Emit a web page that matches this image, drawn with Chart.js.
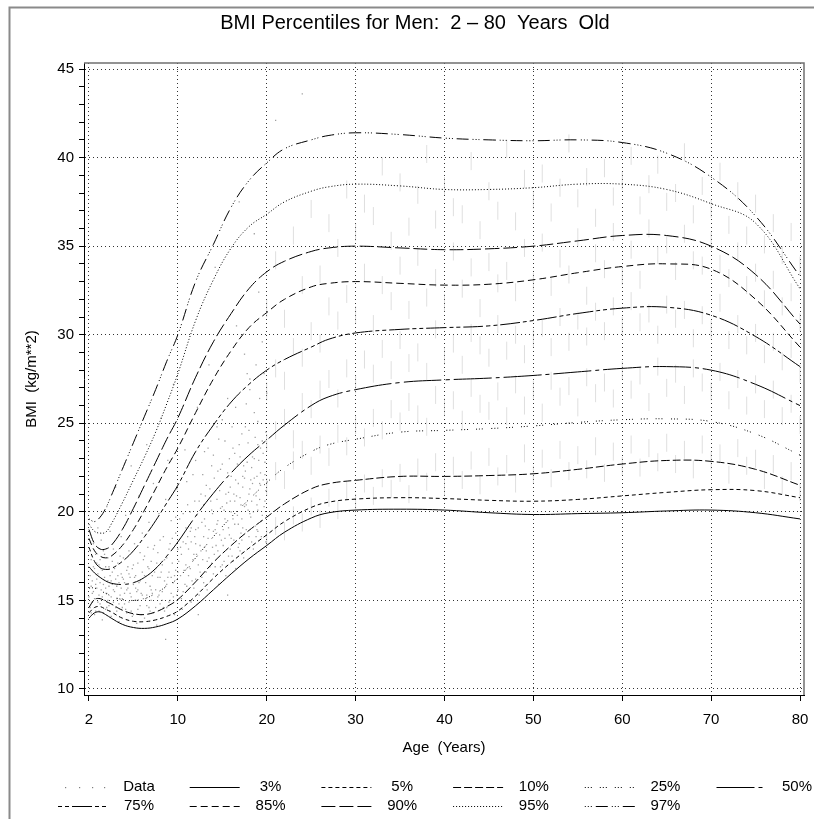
<!DOCTYPE html>
<html><head><meta charset="utf-8">
<script src="https://cdn.jsdelivr.net/npm/chart.js@4.4.1/dist/chart.umd.min.js"></script>
<style>html,body{margin:0;padding:0;background:#fff}#wrap{width:814px;height:819px}</style>
</head><body><div id="wrap"><canvas id="c" width="814" height="819"></canvas></div>
<script>
const titleText = 'BMI Percentiles for Men:  2 \u2013 80  Years  Old';
const xTitle = 'Age  (Years)';
const yTitle = 'BMI  (kg/m**2)';
const xTickLabels = [2, 10, 20, 30, 40, 50, 60, 70, 80];
const yTickLabels = [10, 15, 20, 25, 30, 35, 40, 45];

const percentileAges = [2, 2.5, 3, 3.5, 4, 5, 6, 7, 8, 9, 10, 12, 14, 16, 18, 20, 22, 25, 27, 30, 35, 40, 45, 50, 55, 60, 65, 70, 75, 80];
const p3  = [14.0, 14.3, 14.35, 14.2, 14.0, 13.65, 13.47, 13.42, 13.5, 13.68, 13.95, 14.7, 15.6, 16.5, 17.35, 18.1, 18.85, 19.65, 19.95, 20.1, 20.15, 20.1, 19.95, 19.85, 19.9, 19.95, 20.05, 20.1, 19.95, 19.6];
const p5  = [14.3, 14.6, 14.65, 14.5, 14.35, 14.0, 13.82, 13.8, 13.9, 14.1, 14.4, 15.25, 16.25, 17.15, 17.95, 18.7, 19.45, 20.25, 20.55, 20.72, 20.8, 20.75, 20.65, 20.6, 20.7, 20.9, 21.1, 21.25, 21.2, 20.8];
const p10 = [14.6, 15.05, 15.1, 14.95, 14.8, 14.45, 14.25, 14.2, 14.35, 14.65, 15.05, 16.05, 17.15, 18.1, 18.95, 19.7, 20.45, 21.3, 21.6, 21.78, 22.0, 22.0, 22.05, 22.15, 22.4, 22.7, 22.9, 22.85, 22.4, 21.5];
const p25 = [15.7, 15.7, 15.55, 15.4, 15.25, 15.05, 15.0, 15.1, 15.4, 15.8, 16.25, 17.4, 18.6, 19.7, 20.7, 21.65, 22.5, 23.4, 23.8, 24.1, 24.5, 24.6, 24.7, 24.85, 25.05, 25.2, 25.25, 25.1, 24.4, 23.2];
const p50 = [16.9, 16.55, 16.3, 16.1, 15.97, 15.9, 16.0, 16.3, 16.8, 17.5, 18.3, 19.75, 21.05, 22.2, 23.2, 24.05, 24.9, 26.0, 26.5, 26.9, 27.3, 27.45, 27.55, 27.7, 27.9, 28.1, 28.2, 28.0, 27.2, 26.0];
const p75 = [18.0, 17.2, 16.85, 16.75, 16.8, 17.2, 17.8, 18.6, 19.5, 20.5, 21.5, 23.4, 24.9, 26.2, 27.2, 28.0, 28.6, 29.3, 29.75, 30.1, 30.3, 30.4, 30.5, 30.8, 31.2, 31.5, 31.55, 31.1, 29.9, 28.2];
const p85 = [18.5, 17.8, 17.5, 17.4, 17.5, 18.1, 19.0, 20.1, 21.3, 22.5, 23.6, 25.6, 27.5, 29.1, 30.4, 31.25, 32.0, 32.7, 32.9, 33.0, 32.9, 32.8, 32.85, 33.1, 33.5, 33.85, 34.0, 33.7, 32.0, 29.3];
const p90 = [19.0, 18.2, 17.9, 17.9, 18.1, 19.0, 20.2, 21.5, 22.8, 24.1, 25.3, 27.6, 29.6, 31.2, 32.6, 33.55, 34.15, 34.7, 34.9, 35.0, 34.9, 34.8, 34.85, 35.0, 35.3, 35.6, 35.6, 35.0, 33.4, 30.6];
const p95 = [19.3, 18.9, 18.8, 18.85, 19.3, 20.5, 21.8, 23.1, 24.5, 26.1, 27.8, 30.8, 33.1, 34.9, 36.1, 36.8, 37.5, 38.1, 38.35, 38.5, 38.4, 38.2, 38.2, 38.3, 38.5, 38.5, 38.2, 37.4, 36.3, 32.6];
const p97 = [19.6, 19.45, 19.7, 20.2, 20.9, 22.4, 23.9, 25.4, 26.9, 28.5, 30.0, 33.0, 35.1, 37.2, 38.7, 39.7, 40.5, 41.0, 41.25, 41.4, 41.3, 41.1, 41.0, 40.95, 41.0, 40.85, 40.25, 38.9, 36.7, 33.3];

const childPoints = [
[2.0,15.2],[2.1,16.4],[2.1,14.6],[2.2,17.3],[2.2,15.8],[2.3,16.1],[2.3,14.9],[2.4,18.2],[2.4,15.5],[2.5,16.8],[2.5,15.1],[2.6,14.4],[2.6,17.6],[2.7,16.2],[2.7,15.7],[2.8,19.1],[2.8,16.5],[2.9,15.3],[2.9,17.0],[3.0,16.0],[3.0,14.8],[3.1,18.4],[3.1,15.6],[3.2,16.7],[3.2,13.9],[3.3,15.9],[3.3,17.8],[3.4,16.3],[3.4,15.0],[3.5,14.5],[3.5,16.9],[3.6,20.3],[3.6,15.4],[3.7,16.1],[3.7,17.4],[3.8,14.7],[3.8,15.8],[3.9,18.9],[3.9,16.4],[4.0,15.2],[4.0,14.1],[4.1,16.6],[4.1,15.9],[4.2,17.9],[4.2,14.9],[4.3,15.5],[4.4,16.2],[4.4,21.4],[4.5,14.4],[4.5,15.8],[4.6,17.1],[4.7,16.0],[4.7,13.8],[4.8,15.3],[4.9,18.6],[4.9,16.5],[5.0,15.1],[5.0,14.6],[5.1,17.4],[5.2,16.0],[5.2,15.4],[5.3,19.8],[5.4,14.3],[5.4,16.7],[5.5,15.7],[5.6,17.8],[5.6,14.9],[5.7,16.3],[5.8,15.2],[5.8,22.6],[5.9,16.8],[6.0,14.2],[6.0,15.9],[6.1,18.2],[6.2,16.4],[6.2,15.0],[6.3,13.7],[6.4,17.1],[6.4,15.6],[6.5,20.9],[6.6,16.1],[6.6,14.7],[6.7,15.4],[6.8,18.8],[6.8,16.6],[6.9,15.1],[7.0,17.5],[7.0,14.0],[7.1,16.0],[7.2,15.3],[7.2,23.8],[7.3,16.9],[7.4,14.6],[7.4,19.4],[7.5,15.8],[7.6,17.2],[7.6,15.0],[7.7,16.4],[7.8,21.6],[7.8,14.3],[7.9,18.1],[8.0,15.6],[8.0,16.8],[8.1,13.6],[8.2,17.7],[8.2,15.2],[8.3,19.9],[8.4,16.3],[8.4,14.8],[8.5,25.3],[8.6,17.0],[8.6,15.5],[8.7,18.6],[8.8,16.1],[8.8,14.4],[8.9,20.7],[9.0,17.4],[9.0,15.9],[9.1,22.9],[9.2,16.6],[9.2,14.9],[9.3,18.2],[9.4,15.4],[9.4,19.5],[9.5,17.1],[9.6,16.0],[9.6,27.2],[9.7,14.2],[9.8,18.8],[9.8,16.7],[9.9,21.3],[10.0,15.6],[10.0,17.9],
[10.2,19.6],[10.3,16.4],[10.5,14.5],[10.6,18.3],[10.8,23.5],[10.9,17.0],[11.0,15.8],[11.1,20.4],[11.3,16.9],[11.4,18.9],[11.5,14.9],[11.7,22.1],[11.8,17.6],[12.0,16.2],[12.1,19.8],[12.2,25.9],[12.4,15.3],[12.5,18.1],[12.6,21.0],[12.8,17.3],[12.9,16.0],[13.0,23.4],[13.1,19.2],[13.3,15.6],[13.4,18.5],[13.5,28.3],[13.7,20.6],[13.8,17.1],[14.0,16.5],[14.1,21.9],[14.2,19.0],[14.4,24.8],[14.5,17.8],[14.6,15.9],[14.8,20.2],[14.9,18.4],[15.0,22.7],[15.2,17.2],[15.3,19.6],[15.4,16.4],[15.6,26.4],[15.7,21.1],[15.8,18.7],[16.0,20.0],[16.1,17.5],[16.2,23.6],[16.4,19.3],[16.5,16.8],[16.6,30.5],[16.8,21.6],[16.9,18.2],[17.0,20.8],[17.2,24.4],[17.3,19.1],[17.4,17.4],[17.6,22.3],[17.7,20.4],[17.8,27.8],[18.0,18.6],[18.1,21.3],[18.2,19.7],[18.4,23.1],[18.5,17.9],[18.6,25.6],[18.8,20.9],[18.9,22.0],[19.0,18.9],[19.1,32.4],[19.3,21.5],[19.4,19.5],[19.5,24.0],[19.7,20.3],[19.8,22.8],[19.9,18.3],[20.0,26.7],
[10.1,17.2],[10.4,15.1],[10.7,16.7],[11.2,17.9],[11.6,16.1],[11.9,18.6],[12.3,17.0],[12.7,19.4],[13.2,17.8],[13.6,16.9],[13.9,19.9],[14.3,18.1],[14.7,21.2],[15.1,19.0],[15.5,20.5],[15.9,17.9],[16.3,21.0],[16.7,19.8],[17.1,18.8],[17.5,21.9],[17.9,20.1],[18.3,22.5],[18.7,19.2],[19.2,20.7],[19.6,23.3],[19.9,21.2],[12.9,20.4],[14.5,22.3],[15.8,23.0],[17.0,23.1],[18.0,24.6],[19.0,25.1],[13.5,17.4],[16.0,18.5],[18.5,20.0],[11.0,21.7],[12.0,22.9],[15.0,25.2],[17.5,28.9],[19.5,29.6],
[12.5,16.6],[13.0,18.0],[14.0,18.9],[15.2,20.1],[16.4,20.6],[17.3,21.4],[18.2,21.8],[19.3,22.2],[14.8,16.9],[16.8,18.0],[18.9,19.0],[11.5,19.1],[13.2,21.5],[16.1,24.8],[18.1,26.9],[19.7,27.8],[16.9,37.5],[21.0,42.1],[24.0,43.6],[14.2,33.8],[18.6,35.7],[8.9,12.8],[12.3,14.2],[15.6,15.3],
[2.2,14.3],[2.4,16.9],[2.6,15.9],[2.8,14.9],[3.0,17.3],[3.2,15.2],[3.4,17.6],[3.6,14.6],[3.8,16.9],[4.0,16.1],[4.2,15.6],[4.4,14.6],[4.6,16.4],[4.8,17.5],[5.0,16.3],[5.2,14.8],[5.4,15.6],[5.6,16.5],[5.8,14.4],[6.0,17.0],[6.2,15.7],[6.4,14.5],[6.6,17.7],[6.8,15.3],[7.0,16.4],[7.2,14.7],[7.4,16.8],[7.6,15.6],[7.8,17.9],[8.0,14.6],[8.2,16.3],[8.4,18.4],[8.6,15.0],[8.8,17.3],[9.0,14.6],[9.2,17.9],[9.4,16.3],[9.6,15.2],[9.8,19.7],[10.0,16.6],
[10.3,18.0],[10.6,15.5],[10.9,19.1],[11.2,16.4],[11.5,18.3],[11.8,15.7],[12.1,17.6],[12.4,20.6],[12.7,16.3],[13.0,19.6],[13.3,17.2],[13.6,21.3],[13.9,18.0],[14.2,16.9],[14.5,19.5],[14.8,22.4],[15.1,18.1],[15.4,21.0],[15.7,19.1],[16.0,22.0],[16.3,18.4],[16.6,20.9],[16.9,23.8],[17.2,19.6],[17.5,20.3],[17.8,22.8],[18.1,19.9],[18.4,21.6],[18.7,24.2],[19.0,20.1],[19.3,23.6],[19.6,21.8],[19.9,24.5],[15.3,24.0],[16.5,25.9],[17.7,26.1],[18.8,28.3],[14.0,23.2],[12.8,22.1],[11.4,20.0],
[15.0,17.0],[16.2,17.2],[17.0,17.8],[18.3,18.3],[19.4,18.6],[14.4,20.7],[15.6,22.2],[16.7,22.7],[17.9,23.9],[19.1,22.9],[13.1,20.9],[12.0,19.0],[10.9,18.2],[13.8,22.6],[15.9,20.6],[17.3,22.0],[18.6,23.0],[19.8,20.6],[19.2,26.4],[18.1,27.5],
[2.3,15.4],[2.5,14.2],[2.7,17.1],[2.9,14.4],[3.1,16.8],[3.3,14.3],[3.5,15.7],[3.7,15.0],[3.9,14.4],[4.1,17.2],[4.3,16.8],[4.5,15.1],[4.7,14.8],[4.9,15.7],[5.1,16.2],[5.3,14.5],[5.5,16.9],[5.7,15.4],[5.9,14.1],[6.1,16.3],[6.3,15.5],[6.5,16.0],[6.7,14.2],[6.9,17.3],[7.1,15.1],[7.3,18.0],[7.5,14.4],[7.7,15.4],[7.9,16.6],[8.1,17.1],[8.3,15.3],[8.5,16.6],[8.7,14.6],[8.9,15.8],[9.1,16.3],[9.3,15.0],[9.5,18.5],[9.7,16.4],[9.9,15.3],
[10.4,17.6],[10.8,15.9],[11.1,18.6],[11.4,16.8],[11.7,17.3],[12.0,18.2],[12.3,19.1],[12.6,17.8],[12.9,18.6],[13.2,16.6],[13.5,19.0],[13.8,20.1],[14.1,17.6],[14.4,19.3],[14.7,18.7],[15.0,20.3],[15.3,18.5],[15.6,19.5],[15.9,21.4],[16.2,19.6],[16.5,21.8],[16.8,19.3],[17.1,20.4],[17.4,22.6],[17.7,19.0],[18.0,21.0],[18.3,20.6],[18.6,21.9],[18.9,20.4],[19.2,21.6],[19.5,19.8],[19.8,22.1],[14.6,24.1],[16.4,23.3],[17.6,24.8],[19.0,23.8],[15.7,17.5],[17.2,18.4],[18.8,18.6],[13.4,23.6],[11.9,20.6],[10.6,19.9]
];

const adultRows = [
[20,18.6,21.4,23.9,26.8,31.5],[21,19.2,22.3,24.6,28.1,34.2],[22,18.9,21.8,25.3,27.4,30.9],[23,19.8,22.9,24.1,29.3,35.6],[24,19.4,23.5,26.2,28.7,32.8],
[25,20.3,22.6,25.8,30.2,37.1],[26,19.6,23.8,26.9,29.5,33.4],[27,20.8,23.1,27.5,31.6,36.3],[28,20.1,24.4,26.4,30.8,34.9],[29,21.2,23.7,28.1,32.3,38.2],
[30,20.5,24.9,27.2,31.1,35.8],[31,21.6,24.2,28.6,33.5,37.4],[32,20.9,25.3,27.8,30.6,36.7],[33,21.9,24.6,29.2,32.8,39.5],[34,21.3,25.8,28.0,31.9,35.3],
[35,22.2,25.1,29.7,33.9,38.6],[36,21.0,26.2,28.4,31.4,36.1],[37,22.5,25.5,29.0,34.4,37.9],[38,21.7,24.8,27.9,32.1,40.2],[39,22.8,26.6,30.3,33.2,36.5],
[40,21.4,25.9,28.8,31.8,38.4],[41,22.6,26.3,29.5,34.7,37.2],[42,21.8,25.2,28.3,32.6,36.8],[43,22.9,27.0,30.1,33.8,39.8],[44,21.5,26.1,29.4,31.5,35.9],
[45,23.1,25.7,28.7,34.1,38.1],[46,22.0,26.8,30.6,32.9,37.0],[47,22.7,25.4,29.1,33.6,40.5],[48,21.6,27.2,30.0,32.4,36.4],[49,23.3,26.0,28.9,34.9,38.8],
[50,22.1,26.9,29.8,33.0,37.6],[51,23.0,25.6,30.4,35.2,39.1],[52,21.9,27.4,29.3,32.7,36.9],[53,23.5,26.5,31.0,34.3,38.3],[54,22.3,27.1,29.6,33.4,40.8],
[55,23.2,25.9,30.8,35.5,37.7],[56,22.4,27.6,29.9,32.2,38.9],[57,23.7,26.7,31.3,34.6,36.6],[58,22.2,27.3,30.2,33.7,39.4],[59,23.4,26.4,31.6,35.8,37.8],
[60,22.6,28.0,30.5,33.3,38.7],[61,23.8,26.9,31.9,34.8,40.1],[62,22.5,27.7,30.7,33.1,37.3],[63,23.6,26.2,31.2,36.0,38.5],[64,22.8,28.2,30.0,34.5,39.6],
[65,23.9,27.0,31.7,35.1,37.5],[66,22.7,27.8,30.9,33.6,38.0],[67,23.5,26.6,31.4,35.7,40.3],[68,22.4,28.1,29.8,34.2,36.8],[69,23.8,27.3,31.1,33.9,38.4],
[70,22.9,26.8,30.3,35.3,37.1],[71,23.3,27.9,31.8,34.0,39.2],[72,22.1,26.3,29.7,33.2,36.2],[73,23.6,27.5,30.6,34.7,38.1],[74,22.6,26.0,29.4,32.8,35.6],
[75,23.0,27.2,30.1,33.5,37.4],[76,21.8,25.8,28.9,32.0,35.1],[77,22.7,26.9,29.6,33.1,36.3],[78,21.5,25.4,28.5,31.6,34.5],[79,22.3,26.1,29.2,32.4,35.8],[80,21.1,24.9,27.8,30.7,33.9]
];

// piecewise axis used by the original: 2-10 spans the same width as each decade
function ageToU(a) { return a <= 10 ? (a - 2) / 8 : 1 + (a - 10) / 10; }

const curveDefs = [
  {label: '3%',  values: p3,  dash: []},
  {label: '5%',  values: p5,  dash: [4, 3]},
  {label: '10%', values: p10, dash: [8, 3]},
  {label: '25%', values: p25, dash: [1, 2, 1, 2, 1, 8]},
  {label: '50%', values: p50, dash: [38, 4, 4, 4]},
  {label: '75%', values: p75, dash: [4, 3, 4, 3, 20, 3]},
  {label: '85%', values: p85, dash: [7, 4]},
  {label: '90%', values: p90, dash: [14, 4]},
  {label: '95%', values: p95, dash: [1, 2]},
  {label: '97%', values: p97, dash: [1, 2, 1, 2, 1, 4, 12, 4]}
];

const datasets = [];
datasets.push({
  label: 'Data', type: 'scatter', order: 20,
  data: childPoints.map(p => ({x: ageToU(p[0]), y: p[1]})),
  pointStyle: 'rect', pointRadius: 0.9, pointBorderWidth: 0,
  backgroundColor: 'rgba(95,95,95,0.6)', borderColor: 'rgba(0,0,0,0)', showLine: false
});
const adultPts = [];
adultRows.forEach(r => { for (let i = 1; i < r.length; i++) adultPts.push({x: ageToU(r[0]), y: r[i]}); });
datasets.push({
  label: 'DataAdult', type: 'scatter', order: 21,
  data: adultPts,
  pointStyle: 'line', pointRotation: 90, pointRadius: 9, pointBorderWidth: 1,
  borderColor: 'rgba(140,140,140,0.28)', backgroundColor: 'rgba(140,140,140,0.28)', showLine: false
});
curveDefs.forEach(c => {
  datasets.push({
    label: c.label, type: 'line', order: 1,
    data: percentileAges.map((a, i) => ({x: ageToU(a), y: c.values[i]})),
    borderColor: '#000', borderWidth: 1, borderDash: c.dash,
    pointRadius: 0, fill: false, tension: 0.4
  });
});

const yAllTicks = [];
for (let v = yTickLabels[0]; v <= yTickLabels[yTickLabels.length - 1]; v++) yAllTicks.push(v);

const legendRows = [['Data', '3%', '5%', '10%', '25%', '50%'], ['75%', '85%', '90%', '95%', '97%']];
const FONT = '"Liberation Sans", Arial, sans-serif';

const decor = {
  id: 'decor',
  afterDraw(chart) {
    const ctx = chart.ctx, a = chart.chartArea;
    ctx.save();
    ctx.strokeStyle = '#8a8a8a'; ctx.lineWidth = 2;
    ctx.beginPath(); ctx.moveTo(9.5, 819); ctx.lineTo(9.5, 7.5); ctx.lineTo(814, 7.5); ctx.stroke();
    ctx.strokeStyle = '#707070'; ctx.lineWidth = 1.5;
    ctx.beginPath(); ctx.moveTo(a.left, a.top); ctx.lineTo(a.right, a.top); ctx.lineTo(a.right, a.bottom); ctx.stroke();
    ctx.fillStyle = '#000';
    ctx.font = '20px ' + FONT;
    ctx.textAlign = 'center'; ctx.textBaseline = 'middle';
    ctx.fillText(titleText, 415, 23);
    ctx.font = '15px ' + FONT;
    const rowY = [787, 806];
    legendRows.forEach((row, ri) => {
      row.forEach((lab, ci) => {
        const sx = 58 + 131.7 * ci, y = rowY[ri] + 0.5;
        const ds = chart.data.datasets.find(d => d.label === lab);
        if (lab === 'Data') {
          ctx.fillStyle = 'rgba(95,95,95,0.8)';
          [65, 79, 92, 104].forEach(px => ctx.fillRect(px, y - 0.5, 1.2, 1.2));
        } else {
          ctx.strokeStyle = '#000'; ctx.lineWidth = 1; ctx.setLineDash(ds.borderDash || []);
          ctx.beginPath(); ctx.moveTo(sx, y); ctx.lineTo(sx + 50, y); ctx.stroke();
          ctx.setLineDash([]);
        }
        ctx.fillStyle = '#000';
        ctx.fillText(lab, 139 + 131.6 * ci, rowY[ri]);
      });
    });
    ctx.restore();
  }
};

Chart.defaults.font.family = FONT;
Chart.defaults.font.size = 15;
Chart.defaults.color = '#000';

new Chart(document.getElementById('c'), {
  type: 'line',
  data: {datasets},
  options: {
    responsive: false, animation: false, devicePixelRatio: 1, events: [],
    layout: {padding: {top: 63, right: 3, left: 0, bottom: 0}},
    plugins: {legend: {display: false}, tooltip: {enabled: false}, title: {display: false}},
    scales: {
      x: {
        type: 'linear', min: -0.056, max: 8.045,
        afterBuildTicks: s => { s.ticks = xTickLabels.map(t => ({value: ageToU(t)})); },
        afterFit: s => { s.height = 124; s.paddingLeft = 0; s.paddingRight = 0; },
        ticks: {autoSkip: false, maxRotation: 0, padding: 10, callback: (v, i) => String(xTickLabels[i])},
        grid: {color: '#333', lineWidth: 1, drawTicks: true, tickLength: 6, tickColor: '#000', tickWidth: 1},
        border: {display: true, color: '#000', width: 1, dash: [1, 3]},
        title: {display: true, text: xTitle, padding: {top: 0, bottom: 62}, font: {size: 15}}
      },
      y: {
        type: 'linear', min: 9.66, max: 45.34,
        afterBuildTicks: s => { s.ticks = yAllTicks.map(v => ({value: v})); },
        afterFit: s => { s.width = 84; s.paddingTop = 0; s.paddingBottom = 0; },
        ticks: {autoSkip: false, padding: 5, callback: v => (v % 5 === 0 ? String(v) : '')},
        grid: {
          color: c => (c.tick && c.tick.value % 5 === 0 ? '#333' : 'rgba(0,0,0,0)'),
          lineWidth: 1, drawTicks: true, tickLength: 5, tickColor: '#000', tickWidth: 1
        },
        border: {display: true, color: '#000', width: 1, dash: [1, 3]},
        title: {display: true, text: yTitle, padding: {top: 23, bottom: 0}, font: {size: 15}}
      }
    }
  },
  plugins: [decor]
});
</script>
</body></html>
